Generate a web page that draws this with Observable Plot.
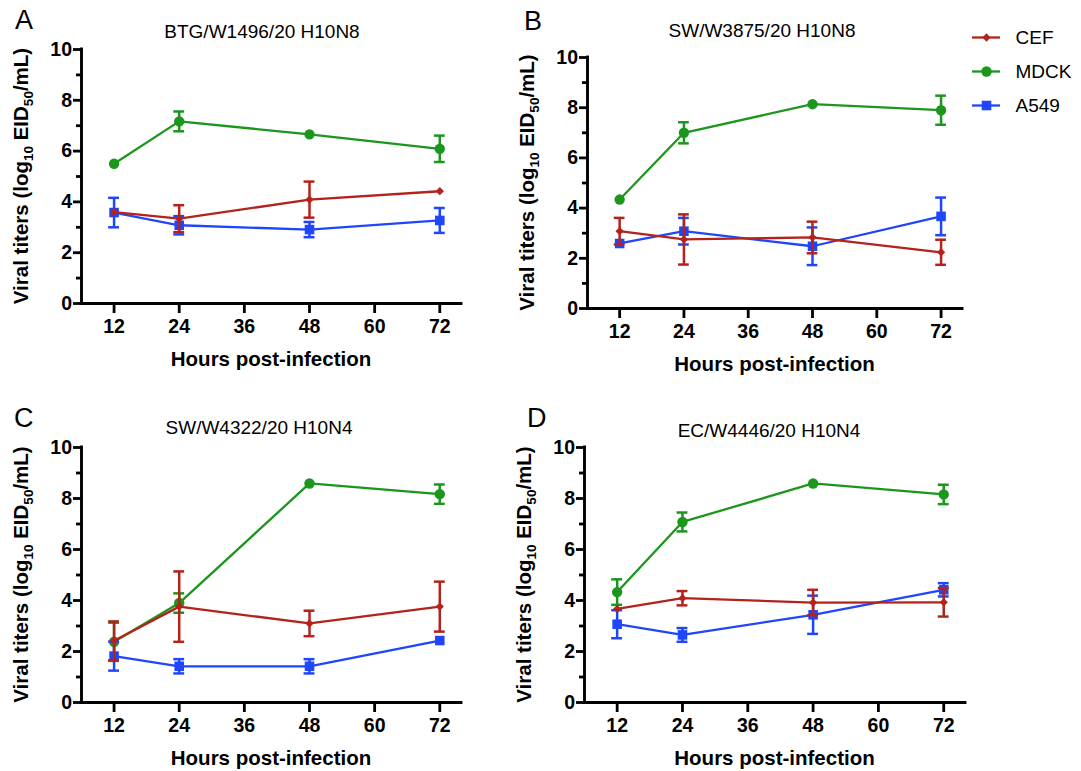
<!DOCTYPE html>
<html>
<head>
<meta charset="utf-8">
<script src="https://cdn.jsdelivr.net/npm/d3@7"></script>
<script src="https://cdn.jsdelivr.net/npm/@observablehq/plot@0.6"></script>
<style>
  body { margin: 0; background: #fff; }
  #root { position: relative; width: 1081px; height: 771px; font-family: "Liberation Sans", Arial, Helvetica, sans-serif; }
  #root svg { position: absolute; overflow: visible; }
</style>
</head>
<body>
<div id="root"></div>
<script>
// ---------- data ----------
const hours = [12, 24, 48, 72];
const cells = ["CEF", "MDCK", "A549"];
const strains = ["BTG/W1496/20 H10N8", "SW/W3875/20 H10N8", "SW/W4322/20 H10N4", "EC/W4446/20 H10N4"];
const panelLetters = ["A", "B", "C", "D"];
const yTicks = [0, 2, 4, 6, 8, 10];
const yMinorTicks = [1, 3, 5, 7, 9];
const xTicks = [12, 24, 36, 48, 60, 72];

// rows: CEF, MDCK, A549 ; columns: 12, 24, 48, 72 h
const meanA = [[3.60, 3.34, 4.09, 4.42], [5.50, 7.17, 6.66, 6.09], [3.58, 3.08, 2.91, 3.27]];
const errA  = [[0.00, 0.53, 0.71, 0.00], [0.00, 0.39, 0.00, 0.52], [0.58, 0.36, 0.30, 0.49]];
const meanB = [[3.08, 2.75, 2.83, 2.24], [4.34, 7.00, 8.14, 7.90], [2.59, 3.08, 2.48, 3.67]];
const errB  = [[0.53, 1.00, 0.63, 0.50], [0.00, 0.42, 0.00, 0.58], [0.00, 0.53, 0.75, 0.75]];
const meanC = [[2.42, 3.76, 3.10, 3.76], [2.38, 3.90, 8.59, 8.17], [1.82, 1.42, 1.42, 2.43]];
const errC  = [[0.76, 1.38, 0.50, 0.98], [0.75, 0.38, 0.00, 0.38], [0.57, 0.28, 0.28, 0.00]];
const meanD = [[3.67, 4.09, 3.92, 3.93], [4.33, 7.08, 8.59, 8.16], [3.07, 2.65, 3.44, 4.42]];
const errD  = [[0.00, 0.28, 0.50, 0.56], [0.50, 0.37, 0.00, 0.38], [0.55, 0.27, 0.75, 0.26]];

const means = [meanA, meanB, meanC, meanD];
const errs = [errA, errB, errC, errD];

// ---------- styling / layout ----------
const colors = ["#b3221b", "#1c961c", "#1f46fb"];
const drawOrder = ["MDCK", "A549", "CEF"];
const symbolOpts = {
  CEF:  {symbol: "square", r: 3.3, rotate: 45},
  MDCK: {symbol: "circle", r: 5.2, rotate: 0},
  A549: {symbol: "square", r: 5.4, rotate: 0}
};
// frame boxes in page pixels
const layout = [
  {ox: 0,   oy: 0,   w: 480, h: 390, L: 81,  R: 461, T: 49,  B: 303, tx: 262, ty: 38,  lx: 15,  ly: 29},
  {ox: 480, oy: 0,   w: 520, h: 390, L: 587, R: 962, T: 57,  B: 308, tx: 762, ty: 37,  lx: 524, ly: 30},
  {ox: 0,   oy: 390, w: 480, h: 381, L: 81,  R: 461, T: 447, B: 702, tx: 259, ty: 434, lx: 14,  ly: 427},
  {ox: 480, oy: 390, w: 520, h: 381, L: 584, R: 965, T: 447, B: 702, tx: 769, ty: 437, lx: 527, ly: 427}
];
const xDomain = [6, 76];
const capHalf = 1.0; // hours

const root = document.getElementById("root");

layout.forEach((g, p) => {
  const rows = [];
  cells.forEach((c, ci) => hours.forEach((h, hi) => {
    rows.push({cell: c, hour: h, mean: means[p][ci][hi], err: errs[p][ci][hi]});
  }));

  const seriesMarks = [];
  drawOrder.forEach(c => {
    const r = rows.filter(d => d.cell === c);
    const re = r.filter(d => d.err > 0);
    const so = symbolOpts[c];
    seriesMarks.push(
      Plot.line(r, {x: "hour", y: "mean", stroke: "cell", strokeWidth: 2.3}),
      Plot.ruleX(re, {x: "hour", y1: d => d.mean - d.err, y2: d => d.mean + d.err, stroke: "cell", strokeWidth: 2.5}),
      Plot.ruleY(re, {y: d => d.mean + d.err, x1: d => d.hour - capHalf, x2: d => d.hour + capHalf, stroke: "cell", strokeWidth: 2.5}),
      Plot.ruleY(re, {y: d => d.mean - d.err, x1: d => d.hour - capHalf, x2: d => d.hour + capHalf, stroke: "cell", strokeWidth: 2.5}),
      Plot.dot(r, {x: "hour", y: "mean", fill: "cell", stroke: "none", symbol: so.symbol, r: so.r, rotate: so.rotate})
    );
  });

  const L = g.L - g.ox, R = g.R - g.ox, T = g.T - g.oy, B = g.B - g.oy;
  const chart = Plot.plot({
    width: g.w, height: g.h,
    marginLeft: L, marginRight: g.w - R, marginTop: T, marginBottom: g.h - B,
    x: {domain: xDomain, axis: null},
    y: {domain: [0, 10], axis: null},
    color: {domain: cells, range: colors},
    style: {fontFamily: '"Liberation Sans", Arial, sans-serif', fontWeight: "bold", fontSize: "19.5px", color: "#000", background: "transparent"},
    marks: [
      Plot.axisY({ticks: yTicks, tickSize: 8, tickPadding: 1.5, strokeWidth: 2.8, fontSize: 19.5, fontWeight: "bold", label: null}),
      Plot.axisY({ticks: yMinorTicks, tickSize: 5, strokeWidth: 2.8, text: null, label: null}),
      Plot.axisX({ticks: xTicks, tickSize: 10, tickPadding: 6, strokeWidth: 2.8, fontSize: 19.5, fontWeight: "bold", label: null}),
      Plot.ruleX([xDomain[0]], {strokeWidth: 2.9, strokeLinecap: "square"}),
      Plot.ruleY([0], {strokeWidth: 2.9, strokeLinecap: "square"}),
      ...seriesMarks
    ]
  });
  chart.style.left = g.ox + "px";
  chart.style.top = g.oy + "px";
  root.appendChild(chart);

  const svg = d3.select(chart);
  // x title
  svg.append("text")
    .attr("x", (L + R) / 2).attr("y", B + 63)
    .attr("text-anchor", "middle")
    .style("font-size", "20.5px").style("font-weight", "bold")
    .text("Hours post-infection");
  // y title with subscripts
  const yt = svg.append("text")
    .attr("transform", `translate(${L - 53},${(T + B) / 2}) rotate(-90)`)
    .attr("text-anchor", "middle")
    .style("font-size", "20.5px").style("font-weight", "bold");
  yt.append("tspan").text("Viral titers (log");
  yt.append("tspan").attr("dy", 5).style("font-size", "13.5px").text("10");
  yt.append("tspan").attr("dy", -5).text(" EID");
  yt.append("tspan").attr("dy", 5).style("font-size", "13.5px").text("50");
  yt.append("tspan").attr("dy", -5).text("/mL)");
  // strain title
  svg.append("text")
    .attr("x", g.tx - g.ox).attr("y", g.ty - g.oy)
    .attr("text-anchor", "middle")
    .style("font-size", "19px").style("font-weight", "normal")
    .text(strains[p]);
  // panel letter
  svg.append("text")
    .attr("x", g.lx - g.ox).attr("y", g.ly - g.oy)
    .attr("text-anchor", "start")
    .style("font-size", "27px").style("font-weight", "normal")
    .text(panelLetters[p]);
});

// ---------- legend ----------
const legendBox = {ox: 960, oy: 20, w: 121, h: 100};
const legendMarks = [
  Plot.ruleY(cells, {y: d => d, x1: 0, x2: 1, stroke: d => d, strokeWidth: 2.3})
];
cells.forEach(c => {
  const so = symbolOpts[c];
  legendMarks.push(Plot.dot([c], {x: 0.5, y: d => d, fill: d => d, stroke: "none", symbol: so.symbol, r: so.r, rotate: so.rotate}));
});
legendMarks.push(Plot.text(cells, {x: 1, y: d => d, text: d => d, dx: 15, textAnchor: "start", fontSize: 19, fill: "#000"}));

const legend = Plot.plot({
  width: legendBox.w, height: legendBox.h,
  margin: 0,
  x: {domain: [0, 1], range: [972 - legendBox.ox, 1000 - legendBox.ox], axis: null},
  y: {type: "point", domain: cells, range: [36.7 - legendBox.oy, 105 - legendBox.oy], padding: 0, axis: null},
  color: {domain: cells, range: colors},
  style: {fontFamily: '"Liberation Sans", Arial, sans-serif', fontSize: "19px", background: "transparent"},
  marks: legendMarks
});
legend.style.left = legendBox.ox + "px";
legend.style.top = legendBox.oy + "px";
root.appendChild(legend);
</script>
</body>
</html>
